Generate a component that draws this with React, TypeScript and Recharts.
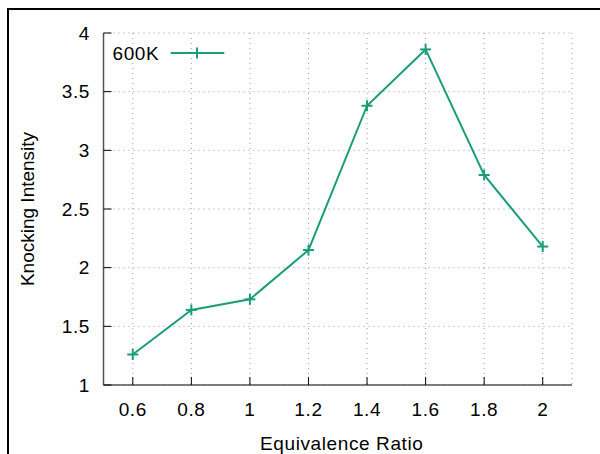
import React from 'react';
import {
  LineChart,
  Line,
  XAxis,
  YAxis,
  CartesianGrid,
  Legend,
} from 'recharts';

const ratios = [0.6, 0.8, 1, 1.2, 1.4, 1.6, 1.8, 2];
const intensity600K = [1.26, 1.64, 1.73, 2.15, 3.38, 3.86, 2.79, 2.18];
const yTicks = [1, 1.5, 2, 2.5, 3, 3.5, 4];

const data = ratios.map((r, i) => ({ ratio: r, k600: intensity600K[i] }));

const GREEN = '#1b9e77';
const BORDER = '#555';

function PlusDot(props: any) {
  const { cx, cy } = props;
  if (cx == null || cy == null) return null;
  return (
    <g>
      <line x1={cx - 5.5} y1={cy} x2={cx + 5.5} y2={cy} stroke={GREEN} strokeWidth={2} />
      <line x1={cx} y1={cy - 5.5} x2={cx} y2={cy + 5.5} stroke={GREEN} strokeWidth={2} />
    </g>
  );
}

function KeyBox() {
  return (
    <svg width={120} height={22}>
      <text x={0.5} y={18} fontSize={19} letterSpacing={0.6} fill="#000">600K</text>
      <line x1={58.7} y1={11} x2={112.3} y2={11} stroke={GREEN} strokeWidth={2} />
      <PlusDot cx={85} cy={11} />
    </svg>
  );
}

export default function App() {
  const tickStyle = { fontSize: 19, fill: '#000', letterSpacing: 0.6 };
  return (
    <div
      style={{
        position: 'absolute',
        left: 0,
        top: 0,
        width: 600,
        height: 454,
        background: '#fff',
        fontFamily: '"Liberation Sans", Arial, sans-serif',
      }}
    >
      <div
        style={{
          position: 'absolute',
          left: 7,
          top: 8,
          right: 0,
          bottom: 0,
          borderTop: '2px solid #000',
          borderLeft: '2px solid #000',
        }}
      />
      <LineChart
        width={600}
        height={454}
        data={data}
        margin={{ top: 33, right: 28, bottom: 5, left: 0 }}
      >
        <CartesianGrid
          xAxisId="bottom"
          yAxisId="left"
          stroke="#999"
          strokeDasharray="1 4"
        />
        <XAxis
          xAxisId="bottom"
          dataKey="ratio"
          type="number"
          domain={[0.5, 2.1]}
          ticks={ratios}
          height={64}
          tickSize={-8}
          tickMargin={26}
          tick={tickStyle}
          tickLine={{ stroke: '#000' }}
          axisLine={{ stroke: BORDER, strokeWidth: 1.5 }}
          label={{
            value: 'Equivalence Ratio',
            position: 'insideBottom',
            offset: -1,
            dx: 4,
            fontSize: 19,
            fill: '#000',
            style: { letterSpacing: 0.6 },
          }}
        />
        <XAxis
          xAxisId="top"
          orientation="top"
          dataKey="ratio"
          type="number"
          domain={[0.5, 2.1]}
          ticks={ratios}
          height={0}
          tickSize={-8}
          tick={false}
          tickLine={{ stroke: '#000' }}
          axisLine={{ stroke: BORDER, strokeWidth: 1.5 }}
        />
        <YAxis
          yAxisId="left"
          type="number"
          domain={[1, 4]}
          ticks={yTicks}
          width={103.5}
          tickSize={-8}
          tickMargin={21.5}
          tick={tickStyle}
          tickLine={{ stroke: '#000' }}
          axisLine={{ stroke: BORDER, strokeWidth: 1.5 }}
          label={{
            value: 'Knocking Intensity',
            angle: -90,
            position: 'insideLeft',
            offset: 27,
            fontSize: 19,
            fill: '#000',
            style: { textAnchor: 'middle' },
          }}
        />
        <YAxis
          yAxisId="right"
          orientation="right"
          type="number"
          domain={[1, 4]}
          ticks={yTicks}
          width={0}
          tick={false}
          tickLine={false}
          axisLine={{ stroke: BORDER, strokeWidth: 1.5 }}
        />
        <Legend
          layout="horizontal"
          verticalAlign="middle"
          align="center"
          wrapperStyle={{ left: 112, top: 42, width: 120, height: 22 }}
          content={() => <KeyBox />}
        />
        <Line
          xAxisId="bottom"
          yAxisId="left"
          dataKey="k600"
          stroke={GREEN}
          strokeWidth={2}
          dot={(p: any) => <PlusDot key={p.index} cx={p.cx} cy={p.cy} />}
          activeDot={false}
          isAnimationActive={false}
        />
      </LineChart>
    </div>
  );
}
